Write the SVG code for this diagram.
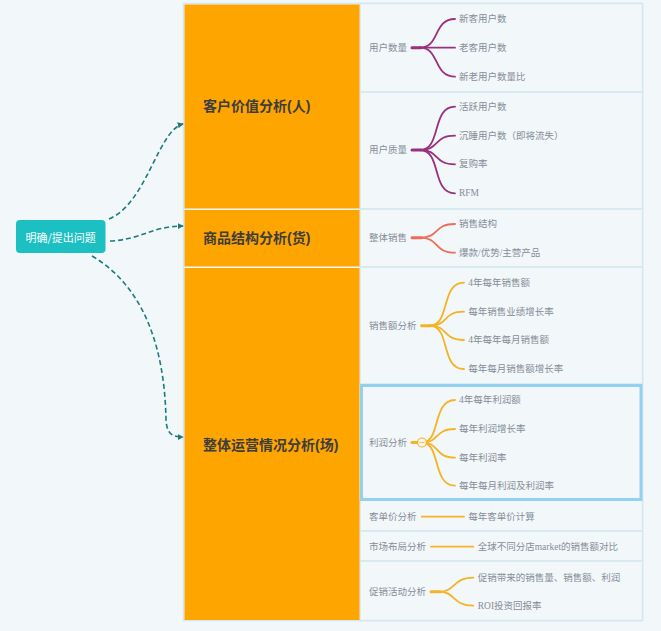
<svg xmlns="http://www.w3.org/2000/svg" width="661" height="631" viewBox="0 0 661 631">
<defs>
<marker id="arr" viewBox="0 0 8 8" refX="7" refY="4" markerWidth="6" markerHeight="6" orient="auto" markerUnits="userSpaceOnUse">
<path d="M0,0 L8,4 L0,8 z" fill="#1d7b7d"/>
</marker>
<style>
.bg{fill:#f2f7fa}
.cell{fill:#f2f7fa;stroke:#d3e8ef;stroke-width:1.5}
.main{fill:#ffa500}
.mt{font-family:"Liberation Sans","Noto Sans CJK SC",sans-serif;font-size:14px;font-weight:bold;fill:#3d3d3d;dominant-baseline:central}
.lt{font-family:"Liberation Serif","Noto Sans CJK SC",serif;font-size:9.5px;fill:#868d97;dominant-baseline:central}
.conn{fill:none;stroke:#1d7b7d;stroke-width:1.6;stroke-dasharray:5 3;marker-end:url(#arr)}
.p{fill:none;stroke:#9b2f80;stroke-width:1.8;stroke-linecap:round}
.r{fill:none;stroke:#ef6a58;stroke-width:1.8;stroke-linecap:round}
.y{fill:none;stroke:#f6b323;stroke-width:1.8;stroke-linecap:round}
.stem{stroke-width:3}
</style>
</defs>
<rect class="bg" x="0" y="0" width="661" height="631"/>

<g id="table">
<rect class="cell" x="183.5" y="3.5" width="459" height="617"/>
<rect class="cell" x="360" y="3.5" width="282.5" height="88.5"/>
<rect class="cell" x="360" y="92" width="282.5" height="117"/>
<rect class="cell" x="360" y="209" width="282.5" height="58"/>
<rect class="cell" x="360" y="267" width="282.5" height="117"/>
<rect class="cell" x="360" y="500" width="282.5" height="31"/>
<rect class="cell" x="360" y="531" width="282.5" height="30"/>
<rect class="cell" x="360" y="561" width="282.5" height="59.5"/>
</g>

<g id="connectors">
<path class="conn" d="M109,219 C147,203 158,130 183,124"/>
<path class="conn" d="M110,241 C140,240 152,226 183,226"/>
<path class="conn" d="M92,256 C150,290 165,360 166,420 C167,434 172,437 183,437"/>
</g>

<g id="root">
<rect x="16" y="220" width="89.5" height="33" rx="4" fill="#1cbfc2"/>
<text x="60.7" y="236.5" text-anchor="middle" font-family="'Noto Sans CJK SC',sans-serif" font-size="11" fill="#ffffff" dominant-baseline="central">明确/提出问题</text>
</g>

<g id="people">
<rect class="main" x="184.5" y="4.5" width="175" height="204"/>
<text class="mt" x="203" y="106">客户价值分析(人)</text>
</g>
<g id="goods">
<rect class="main" x="184.5" y="210" width="175" height="56.5"/>
<text class="mt" x="203" y="238">商品结构分析(货)</text>
</g>
<g id="field">
<rect class="main" x="184.5" y="268" width="175" height="352"/>
<text class="mt" x="203" y="445">整体运营情况分析(场)</text>
</g>

<g id="user-count">
<text class="lt" x="369" y="47.7">用户数量</text>
<path class="p stem" d="M412,47.7 H421"/>
<path class="p" d="M420,47.7 C440,47.7 433,19 455,19"/>
<path class="p" d="M420,47.7 H455"/>
<path class="p" d="M420,47.7 C440,47.7 433,76.7 455,76.7"/>
<text class="lt" x="459" y="19">新客用户数</text>
<text class="lt" x="459" y="47.7">老客用户数</text>
<text class="lt" x="459" y="76.7">新老用户数量比</text>
</g>

<g id="user-quality">
<text class="lt" x="369" y="150">用户质量</text>
<path class="p stem" d="M412,150 H421"/>
<path class="p" d="M420,150 C442,150 431,106.7 455,106.7"/>
<path class="p" d="M420,150 C440,150 433,135.7 455,135.7"/>
<path class="p" d="M420,150 C440,150 433,164.3 455,164.3"/>
<path class="p" d="M420,150 C442,150 431,193.3 455,193.3"/>
<text class="lt" x="459" y="106.7">活跃用户数</text>
<text class="lt" x="459" y="135.7">沉睡用户数（即将流失）</text>
<text class="lt" x="459" y="164.3">复购率</text>
<text class="lt" x="459" y="193.3">RFM</text>
</g>

<g id="overall-sales">
<text class="lt" x="369" y="237.7">整体销售</text>
<path class="r stem" d="M412,237.7 H421"/>
<path class="r" d="M420,237.7 C440,237.7 433,224 455,224"/>
<path class="r" d="M420,237.7 C440,237.7 433,252.7 455,252.7"/>
<text class="lt" x="459" y="224">销售结构</text>
<text class="lt" x="459" y="252.7">爆款/优势/主营产品</text>
</g>

<g id="sales-amount">
<text class="lt" x="369" y="325.7">销售额分析</text>
<path class="y stem" d="M421.5,325.7 H430.5"/>
<path class="y" d="M429.5,325.7 C451,325.7 440,282.7 464,282.7"/>
<path class="y" d="M429.5,325.7 C449,325.7 442,311.7 464,311.7"/>
<path class="y" d="M429.5,325.7 C449,325.7 442,340 464,340"/>
<path class="y" d="M429.5,325.7 C451,325.7 440,369 464,369"/>
<text class="lt" x="468.3" y="282.7">4年每年销售额</text>
<text class="lt" x="468.3" y="311.7">每年销售业绩增长率</text>
<text class="lt" x="468.3" y="340">4年每年每月销售额</text>
<text class="lt" x="468.3" y="369">每年每月销售额增长率</text>
</g>

<g id="profit">
<rect x="361.5" y="385.5" width="279.5" height="114" fill="none" stroke="#92d1f2" stroke-width="3"/>
<text class="lt" x="369" y="442.5">利润分析</text>
<path class="y stem" d="M412,442.5 H418"/>
<path class="y" d="M422,442.5 C441,442.5 432,400 455,400"/>
<path class="y" d="M422,442.5 C440,442.5 434,429 455,429"/>
<path class="y" d="M422,442.5 C440,442.5 434,457.7 455,457.7"/>
<path class="y" d="M422,442.5 C441,442.5 432,485.7 455,485.7"/>
<circle cx="422" cy="442.5" r="4.5" fill="#f7f4ea" stroke="#f6b323" stroke-width="1.2"/>
<path d="M419.5,442.5 H424.5" stroke="#f6b323" stroke-width="0.8"/>
<text class="lt" x="459" y="400">4年每年利润额</text>
<text class="lt" x="459" y="429">每年利润增长率</text>
<text class="lt" x="459" y="457.7">每年利润率</text>
<text class="lt" x="459" y="485.7">每年每月利润及利润率</text>
</g>

<g id="unit-price">
<text class="lt" x="369" y="516.7">客单价分析</text>
<path class="y" d="M421.7,516.7 H464"/>
<text class="lt" x="468.3" y="516.7">每年客单价计算</text>
</g>

<g id="market">
<text class="lt" x="369" y="546.7">市场布局分析</text>
<path class="y" d="M431,546.7 H473.3"/>
<text class="lt" x="477.7" y="546.7">全球不同分店market的销售额对比</text>
</g>

<g id="promotion">
<text class="lt" x="369" y="591.7">促销活动分析</text>
<path class="y stem" d="M431,591.7 H440"/>
<path class="y" d="M439,591.7 C456,591.7 452,577.7 473.3,577.7"/>
<path class="y" d="M439,591.7 C456,591.7 452,605.7 473.3,605.7"/>
<text class="lt" x="477.7" y="577.7">促销带来的销售量、销售额、利润</text>
<text class="lt" x="477.7" y="605.7">ROI投资回报率</text>
</g>
</svg>
